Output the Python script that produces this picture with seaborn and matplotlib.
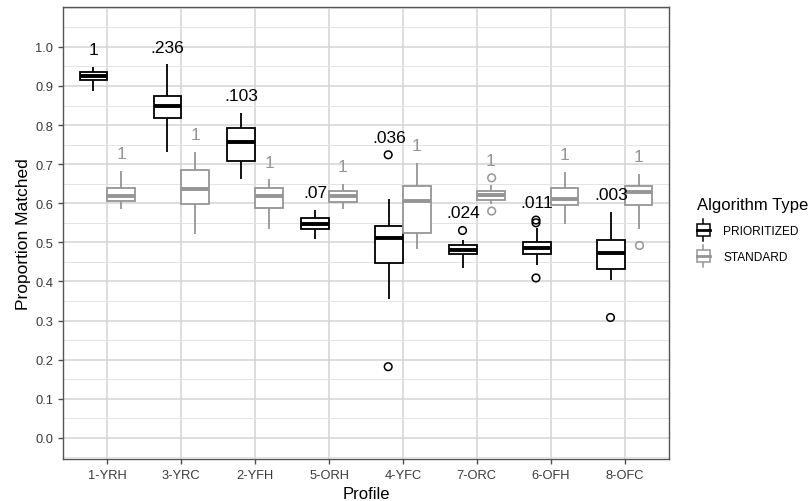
import matplotlib
matplotlib.use('Agg')
import matplotlib.pyplot as plt
import seaborn as sns
import numpy as np
import pandas as pd
from matplotlib.legend_handler import HandlerBase
from matplotlib.patches import Rectangle
from matplotlib.lines import Line2D
from matplotlib.ticker import MultipleLocator

profiles = ['1-YRH', '3-YRC', '2-YFH', '5-ORH', '4-YFC', '7-ORC', '6-OFH', '8-OFC']
algs = ['PRIORITIZED', 'STANDARD']
colors = ['black', '#959595']

# five number summaries (whisker low, q1, median, q3, whisker high)
prio_low = [0.887, 0.731, 0.663, 0.508, 0.354, 0.435, 0.443, 0.403]
prio_q1 = [0.915, 0.817, 0.708, 0.533, 0.446, 0.469, 0.470, 0.431]
prio_med = [0.925, 0.848, 0.757, 0.546, 0.511, 0.480, 0.486, 0.473]
prio_q3 = [0.936, 0.875, 0.793, 0.563, 0.542, 0.493, 0.501, 0.507]
prio_high = [0.949, 0.955, 0.831, 0.584, 0.612, 0.505, 0.537, 0.578]

std_low = [0.586, 0.521, 0.535, 0.585, 0.484, 0.599, 0.548, 0.535]
std_q1 = [0.606, 0.597, 0.588, 0.602, 0.524, 0.608, 0.595, 0.595]
std_med = [0.619, 0.636, 0.618, 0.618, 0.606, 0.621, 0.612, 0.629]
std_q3 = [0.640, 0.684, 0.638, 0.632, 0.644, 0.631, 0.640, 0.644]
std_high = [0.682, 0.731, 0.661, 0.650, 0.703, 0.646, 0.679, 0.676]

# outliers
prio_out_profile = ['4-YFC', '4-YFC', '7-ORC', '6-OFH', '6-OFH', '6-OFH', '8-OFC']
prio_out_value = [0.724, 0.182, 0.531, 0.557, 0.550, 0.409, 0.309]
std_out_profile = ['7-ORC', '7-ORC', '8-OFC']
std_out_value = [0.665, 0.580, 0.494]

# p-value labels
prio_labels = ['1', '.236', '.103', '.07', '.036', '.024', '.011', '.003']
std_labels = ['1', '1', '1', '1', '1', '1', '1', '1']

rows = []
summ = {'PRIORITIZED': [prio_low, prio_q1, prio_med, prio_q3, prio_high],
        'STANDARD': [std_low, std_q1, std_med, std_q3, std_high]}
for alg in algs:
    for stat in summ[alg]:
        for p, v in zip(profiles, stat):
            rows.append({'profile': p, 'alg': alg, 'value': v})
box_df = pd.DataFrame(rows)

out_df = pd.concat([
    pd.DataFrame({'profile': prio_out_profile, 'alg': 'PRIORITIZED', 'value': prio_out_value}),
    pd.DataFrame({'profile': std_out_profile, 'alg': 'STANDARD', 'value': std_out_value}),
])

plt.rcParams['font.family'] = ['Liberation Sans', 'DejaVu Sans']

fig = plt.figure(figsize=(8.12, 5.02), dpi=100)
ax = fig.add_axes([0.0776, 0.0837, 0.7463, 0.9004])
ax.set_facecolor('white')

for alg, col in zip(algs, colors):
    sub = box_df[box_df.alg == alg]
    sns.boxplot(data=sub, x='profile', y='value', hue='alg', hue_order=algs, order=profiles,
                palette={a: 'white' for a in algs}, linecolor=col, linewidth=1.3,
                width=0.75, dodge=True, whis=(0, 100), showcaps=False, showfliers=False,
                medianprops={'linewidth': 2.8}, legend=False, ax=ax)
    osub = out_df[out_df.alg == alg]
    sns.stripplot(data=osub, x='profile', y='value', hue='alg', hue_order=algs, order=profiles,
                  palette={a: 'none' for a in algs}, dodge=True, jitter=False, size=5.5,
                  edgecolor=col, linewidth=1.1, legend=False, ax=ax, zorder=4)

# labels above each box
off = 0.75 / 4
for i, p in enumerate(profiles):
    for j, alg in enumerate(algs):
        vals = list(box_df[(box_df.profile == p) & (box_df.alg == alg)].value) + \
            list(out_df[(out_df.profile == p) & (out_df.alg == alg)].value)
        lab = (prio_labels if j == 0 else std_labels)[i]
        ax.text(i + (2 * j - 1) * off, max(vals) + 0.033, lab, ha='center', va='baseline',
                fontsize=12.5, color=colors[j])

ax.set_xlim(-0.6, 7.6)
ax.set_ylim(-0.054, 1.102)
ax.yaxis.set_major_locator(MultipleLocator(0.1))
ax.yaxis.set_minor_locator(MultipleLocator(0.05))
ax.set_yticks(np.arange(0, 1.01, 0.1))
ax.set_yticklabels(['%.1f' % t for t in np.arange(0, 1.01, 0.1)])
ax.set_axisbelow(True)
ax.grid(True, which='major', color='#d3d3d3', linewidth=1.1)
ax.grid(True, which='minor', axis='y', color='#e3e3e3', linewidth=0.7)
ax.tick_params(which='major', length=3.5, width=1, color='#4d4d4d',
               labelsize=9.3, labelcolor='#3a3a3a')
ax.tick_params(which='minor', length=0)
for s in ax.spines.values():
    s.set_color('#555555')
    s.set_linewidth(1)
ax.set_xlabel('Profile', fontsize=12, labelpad=3.5)
ax.set_ylabel('Proportion Matched', fontsize=12.5, labelpad=3)


class BoxKey(HandlerBase):
    # small boxplot glyph for the legend keys
    def create_artists(self, legend, orig, xd, yd, w, h, fontsize, trans):
        c = orig.get_color()
        x0, y0 = -xd, -yd
        cx = x0 + w / 2
        bh = h * 0.72
        by = y0 + (h - bh) / 2
        art = [
            Line2D([cx, cx], [y0 - 2, y0 + h + 2], color=c, lw=1.1),
            Rectangle((x0, by), w, bh, facecolor='white', edgecolor=c, lw=1.1),
            Line2D([x0, x0 + w], [y0 + h / 2, y0 + h / 2], color=c, lw=2.0),
        ]
        for a in art:
            a.set_transform(trans)
        return art


handles = [Line2D([], [], color=c) for c in colors]
leg = fig.legend(handles, algs, loc='center left', bbox_to_anchor=(0.845, 0.539),
                 frameon=False, title='Algorithm Type', title_fontsize=12, fontsize=8.6,
                 handler_map={Line2D: BoxKey()}, handlelength=1.1, handleheight=1.7,
                 handletextpad=1.1, labelspacing=0.85, alignment='left')

fig.savefig('out.png', dpi=100)
